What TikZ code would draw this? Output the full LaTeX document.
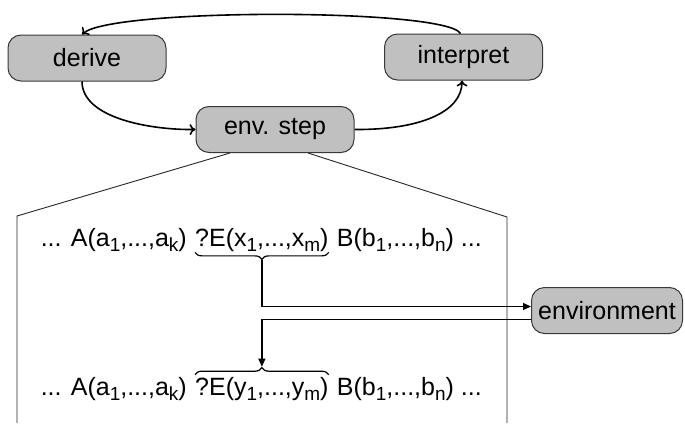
\documentclass[tikz,border=0pt]{standalone}
\usepackage{fontspec}
\setmainfont{Liberation Sans}
\usetikzlibrary{arrows.meta,decorations.pathreplacing,calc}
\definecolor{boxfill}{RGB}{192,192,192}
\definecolor{boxline}{RGB}{56,56,56}
\newcommand\sbs[1]{\raisebox{-0.2em}{\fontsize{19}{19}\selectfont #1}}
\begin{document}
\begin{tikzpicture}[x=1pt,y=-1pt,
  proc/.style={draw=boxline, line width=1pt, fill=boxfill, rounded corners=13pt,
    minimum width=158pt, minimum height=46pt, font=\fontsize{25}{30}\selectfont, inner sep=0pt},
  flow/.style={line width=1.6pt, -{To[length=6pt,width=11pt]}},
  txt/.style={inner sep=0pt, font=\fontsize{25}{30}\selectfont},
  fan/.style={line width=0.9pt, draw=black!85},
  link/.style={line width=1.3pt},
  tip/.style={-{Triangle[length=8pt,width=7pt]}},
  brc/.style={decorate, decoration={brace, amplitude=7pt}, line width=1.2pt}
]
\useasboundingbox (0,0) rectangle (685,423);

\node[proc] (derive) at (87,58) {derive};
\node[proc] (interp) at (463.5,57) {interpret};
\node[proc] (step) at (275,129.5) {env. step};
\node[proc, minimum width=151pt] (env) at (607,310.5) {environment};

\draw[flow] ([xshift=-3pt]interp.north) .. controls (445,8) and (110,8) .. ([xshift=-5pt]derive.north);
\draw[flow] ([xshift=-5pt]derive.south) .. controls (82,118) and (150,130) .. (step.west);
\draw[flow] (step.east) .. controls (420,130) and (462,112) .. ([xshift=-1.5pt]interp.south);

\coordinate (fl) at (17,216);
\coordinate (fr) at (507,217);
\coordinate (flb) at (17,423);
\coordinate (frb) at (507,423);
\draw[fan] ([xshift=-45pt]step.south) -- (fl) -- (flb);
\draw[fan] ([xshift=33pt]step.south) -- (fr) -- (frb);

\node[txt, anchor=base west] (xm) at (195,246) {?E(x\sbs{1},...,x\sbs{m})};
\node[txt, anchor=base east] (la) at ($(xm.base west)+(-8,0)$) {... A(a\sbs{1},...,a\sbs{k})};
\node[txt, anchor=base west] (lb) at ($(xm.base east)+(8,0)$) {B(b\sbs{1},...,b\sbs{n}) ...};

\node[txt, anchor=base west] (ym) at (195,395) {?E(y\sbs{1},...,y\sbs{m})};
\node[txt, anchor=base east] (lc) at ($(ym.base west)+(-8,0)$) {... A(a\sbs{1},...,a\sbs{k})};
\node[txt, anchor=base west] (ld) at ($(ym.base east)+(8,0)$) {B(b\sbs{1},...,b\sbs{n}) ...};

\draw[brc, decoration={mirror}] ($(xm.south west)+(0,1)$) -- ($(xm.south east)+(0,1)$);
\draw[brc] ($(ym.north west)+(0,-2)$) -- ($(ym.north east)+(0,-2)$);
\coordinate (ubt) at ($(xm.south)+(0,9)$);
\coordinate (obt) at ($(ym.north)+(0,-10)$);

\draw[link, tip] (ubt) |- ($(env.west)+(0,-4)$);
\draw[link, tip] ($(env.west)+(0,9)$) -| (obt);
\end{tikzpicture}
\end{document}
